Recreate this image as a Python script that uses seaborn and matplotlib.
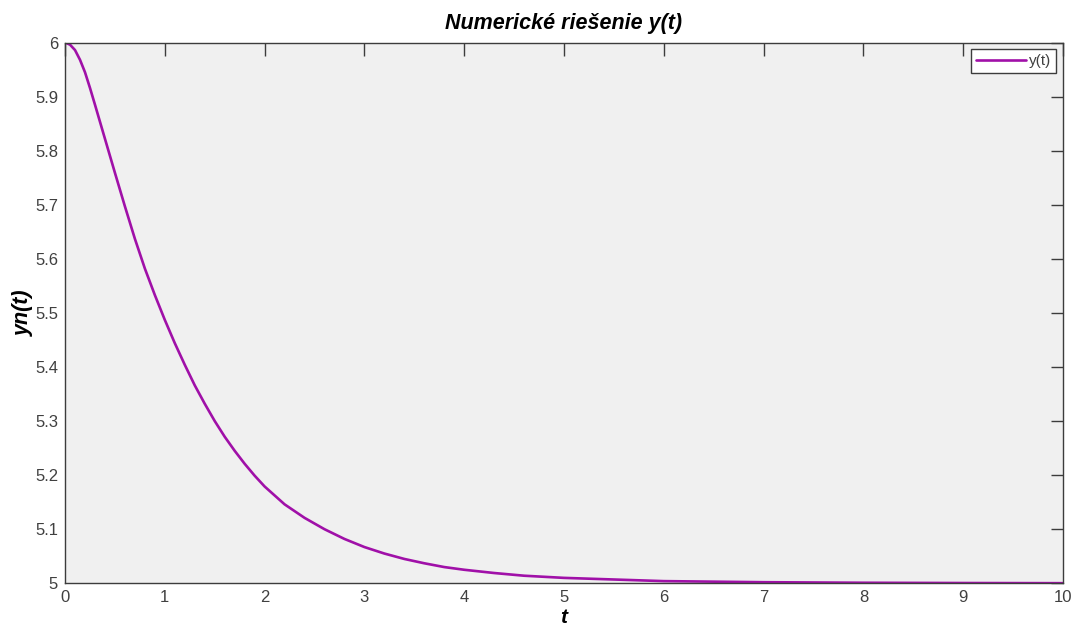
import matplotlib
matplotlib.use("Agg")
import matplotlib.pyplot as plt
import seaborn as sns
import pandas as pd

t_vals = [0.0, 0.05, 0.1, 0.15, 0.2, 0.25, 0.3, 0.4, 0.5, 0.6, 0.7, 0.8, 0.9, 1.0, 1.1, 1.2, 1.3, 1.4,
          1.5, 1.6, 1.7, 1.8, 1.9, 2.0, 2.2, 2.4, 2.6, 2.8, 3.0, 3.2, 3.4, 3.6, 3.8,
          4.0, 4.3, 4.6, 5.0, 5.5, 6.0, 6.5, 7.0, 8.0, 9.0, 10.0]
y_vals = [6.000, 5.996, 5.986, 5.968, 5.945, 5.916, 5.885, 5.822, 5.759, 5.697, 5.637, 5.582, 5.533, 5.487,
          5.444, 5.404, 5.366, 5.332, 5.300, 5.271, 5.245, 5.221, 5.199, 5.179, 5.146,
          5.121, 5.100, 5.082, 5.067, 5.055, 5.045, 5.037, 5.030, 5.025, 5.019, 5.014,
          5.010, 5.007, 5.004, 5.003, 5.002, 5.001, 5.0005, 5.0002]
x_ticks = [0, 1, 2, 3, 4, 5, 6, 7, 8, 9, 10]
y_ticks = [5, 5.1, 5.2, 5.3, 5.4, 5.5, 5.6, 5.7, 5.8, 5.9, 6]
y_tick_labels = ["5", "5.1", "5.2", "5.3", "5.4", "5.5", "5.6", "5.7", "5.8", "5.9", "6"]

sns.set_style("white")
plt.rcParams['font.family'] = ['Liberation Sans', 'DejaVu Sans']

df = pd.DataFrame({"t": t_vals, "y(t)": y_vals})

fig = plt.figure(figsize=(10.75, 6.28), dpi=100)
ax = fig.add_axes([0.0605, 0.0712, 0.9283, 0.8611])
ax.set_facecolor("#f0f0f0")

sns.lineplot(data=df, x="t", y="y(t)", ax=ax, color="#a010a8", linewidth=1.9, label="y(t)")

ax.set_xlim(0, 10)
ax.set_ylim(5, 6)
ax.set_xticks(x_ticks)
ax.set_xticklabels([str(v) for v in x_ticks])
ax.set_yticks(y_ticks)
ax.set_yticklabels(y_tick_labels)

for s in ax.spines.values():
    s.set_color("#3c3c3c")
    s.set_linewidth(1.0)
    s.set_visible(True)

ax.tick_params(direction="in", length=9, width=1, color="#3c3c3c",
               top=True, right=True, labelsize=12, labelcolor="#404040", pad=5)

ax.set_title("Numerické riešenie y(t)", fontsize=15.5, fontweight="bold", fontstyle="italic",
             pad=10, color="black")
ax.set_xlabel("t", fontsize=15, fontweight="bold", fontstyle="italic", labelpad=2, color="black")
ax.set_ylabel("yn(t)", fontsize=15.5, fontweight="bold", fontstyle="italic", labelpad=1, color="black")

leg = ax.legend(loc="upper right", fontsize=11, frameon=True, fancybox=False,
                borderaxespad=0.45, handlelength=3.3, handletextpad=0.2,
                borderpad=0.3)
leg.get_frame().set_edgecolor("#3c3c3c")
leg.get_frame().set_facecolor("white")
leg.get_frame().set_linewidth(1.0)
leg.get_frame().set_alpha(1.0)
for txt in leg.get_texts():
    txt.set_color("#404040")

fig.savefig("out.png", dpi=100, facecolor="white")
